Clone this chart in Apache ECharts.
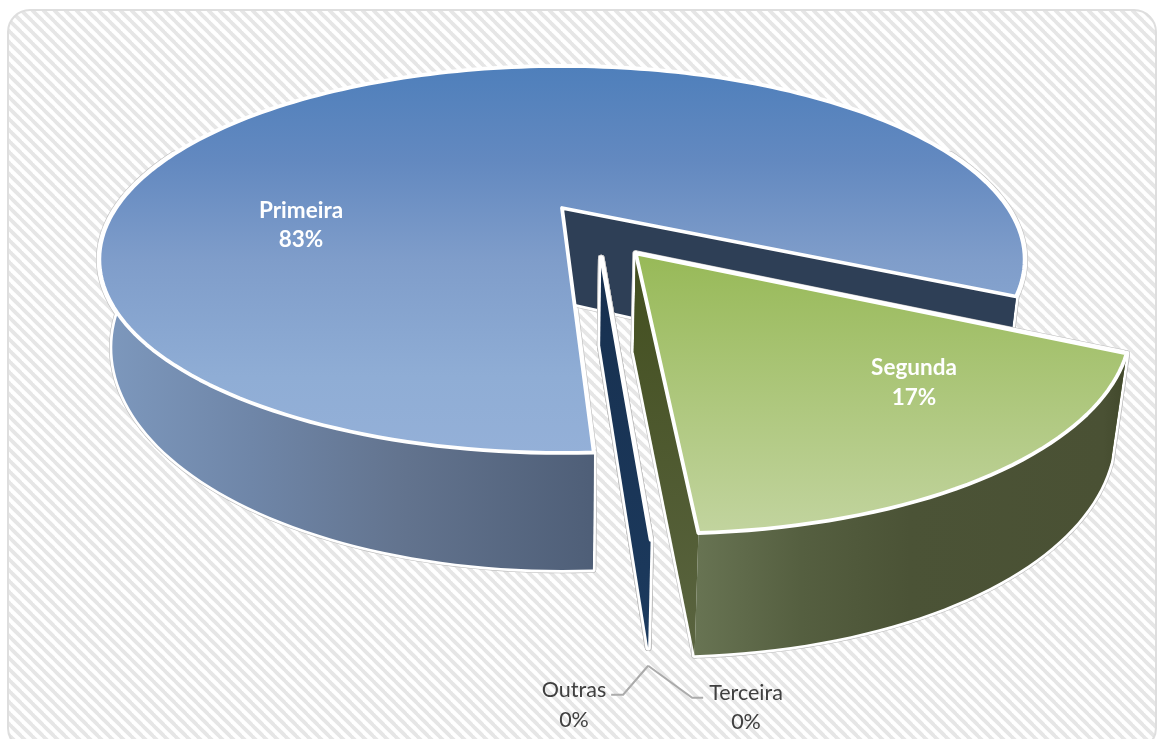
<!DOCTYPE html>
<html>
<head>
<meta charset="utf-8">
<style>html,body{margin:0;padding:0;background:#fff}#c{width:1157px;height:739px}</style>
<script src="https://cdn.jsdelivr.net/npm/echarts@6/dist/echarts.min.js"></script>
</head>
<body>
<div id="c"></div>
<script>
// ---- data ----
const categories = ['Primeira', 'Segunda', 'Terceira', 'Outras'];
const shares = [83, 17, 0, 0];

// ---- scene & style (not data) ----
const firstSliceAngle = 87;          // degrees, clockwise from +x on the disc
const view = { cx: 562, cy: 208, bx: 446, by: 179.8, k: 0.266, wallX: 0.972, depth0: 93, depth1: 24, depthSide: 12 };
const explode = [
  { a: 0, b: 0, r: 1, d: 1 },
  { a: 0.155, b: 0.237, r: 0.985, d: 1 },
  { a: 0.082, b: 0.259, r: 0.98, d: 0.88 },
  { a: 0.082, b: 0.259, r: 0.98, d: 0.88 }
];
const paint = [
  {
    top: [[0, '#4e7fbb'], [0.25, '#6389c0'], [0.5, '#7f9dca'], [0.8, '#8fadd5'], [1, '#94b0d8']],
    wall: { x: 105, x2: 1020, stops: [[0, '#7d98bd'], [0.16, '#6f86a8'], [0.32, '#63748f'], [0.53, '#4f5f78'], [0.6, '#2e3f56'], [1, '#2e3f56']] },
    faceS: ['#2e3f56', '#2e3f56'], faceE: ['#2e3f56', '#2e3f56']
  },
  {
    top: [[0, '#97b957'], [1, '#c2d49f']],
    wall: { x: 694, x2: 1125, stops: [[0, '#687453'], [0.25, '#555f40'], [0.5, '#4b5336'], [0.95, '#4a5134'], [1, '#42492c']] },
    faceS: ['#434f1f', '#434f1f'], faceE: ['#434f1f', '#5a6440']
  },
  {
    top: [[0, '#ffffff'], [1, '#ffffff']],
    wall: { x: 0, x2: 1, stops: [[0, '#17304f'], [1, '#17304f']] },
    faceS: ['#17304f', '#1c3a5e'], faceE: ['#17304f', '#1c3a5e']
  },
  {
    top: [[0, '#ffffff'], [1, '#ffffff']],
    wall: { x: 0, x2: 1, stops: [[0, '#17304f'], [1, '#17304f']] },
    faceS: ['#17304f', '#1c3a5e'], faceE: ['#17304f', '#1c3a5e']
  }
];
const labelAnchor = [
  { x: 301, y: 225, color: '#ffffff', weight: 'bold', size: 22.5, lh: 29 },
  { x: 914, y: 383, color: '#ffffff', weight: 'bold', size: 22.5, lh: 30 },
  { x: 746, y: 708, color: '#404040', weight: 'normal', size: 21.5, lh: 29 },
  { x: 574, y: 705, color: '#404040', weight: 'normal', size: 21.5, lh: 30 }
];
const leaderGap = 18;
const leaderBend = { 2: [[44, 32], [55, 32]], 3: [[-25, 29], [-37, 29]] };
const rad = d => d * Math.PI / 180;

// slice angles from the values
const total = shares.reduce((s, v) => s + v, 0);
let run = firstSliceAngle;
const spans = shares.map(v => { const s = run; run += v / total * 360; return [s, run]; });

function projectTop(a, b) {
  const d = 1 - view.k * b;
  return [view.cx + view.bx * a / d, view.cy + view.by * b / d];
}
function projectLow(a, b, scale) {
  const p = projectTop(a, b);
  const side = a < 0 ? view.depthSide * a * a : 0;
  return [view.cx + (p[0] - view.cx) * view.wallX, p[1] + (view.depth0 + view.depth1 * b - side) * (scale || 1)];
}
function rimAB(i, t) {
  const e = explode[i];
  return [e.a + e.r * Math.cos(rad(t)), e.b + e.r * Math.sin(rad(t))];
}
function arc(i, t0, t1, proj) {
  const n = Math.max(1, Math.ceil(Math.abs(t1 - t0) / 1.5)), out = [];
  for (let j = 0; j <= n; j++) {
    const ab = rimAB(i, t0 + (t1 - t0) * j / n);
    out.push(proj(ab[0], ab[1], explode[i].d));
  }
  return out;
}
const toStops = s => s.map(c => ({ offset: c[0], color: c[1] }));
const vgrad = s => ({ type: 'linear', x: 0, y: 0, x2: 0, y2: 1, colorStops: toStops(s) });
const faceGrad = c => vgrad([[0, c[0]], [1, c[1]]]);
const wallGrad = w => ({ type: 'linear', global: true, x: w.x, y: 0, x2: w.x2, y2: 0, colorStops: toStops(w.stops) });

function poly(points, fill, lw) {
  return { type: 'polygon', shape: { points }, style: { fill: fill, stroke: '#fff', lineWidth: lw, lineJoin: 'round' } };
}
function halo(points) {
  return [
    { type: 'polygon', shape: { points }, style: { fill: 'none', stroke: '#bdbdbd', lineWidth: 6.6, lineJoin: 'round' } },
    { type: 'polygon', shape: { points }, style: { fill: 'none', stroke: '#fff', lineWidth: 5.4, lineJoin: 'round' } }
  ];
}

function renderItem(params, api) {
  const i = api.value(0);
  const [t0, t1] = spans[i];
  const p = paint[i];
  const e = explode[i];
  const ap = projectTop(e.a, e.b);
  const apL = projectLow(e.a, e.b, e.d);
  const children = [];

  // cut faces
  const sT = arc(i, t0, t0, projectTop)[0], sL = arc(i, t0, t0, projectLow)[0];
  const eT = arc(i, t1, t1, projectTop)[0], eL = arc(i, t1, t1, projectLow)[0];
  const faceS = [ap, sT, sL, apL], faceE = [ap, eT, eL, apL];

  // outer wall: only the part turned towards the viewer
  const walls = [];
  const norm = t => ((t % 360) + 360) % 360;
  const visible = t => { const n = norm(t); return n <= 200 || n >= 340; };
  let seg = null;
  const steps = Math.ceil((t1 - t0) / 1.5);
  for (let j = 0; j <= steps && t1 > t0; j++) {
    const t = t0 + (t1 - t0) * j / steps;
    if (visible(t)) { if (!seg) seg = [t, t]; seg[1] = t; }
    else if (seg) { walls.push(seg); seg = null; }
  }
  if (seg) walls.push(seg);
  const wallPts = walls.map(w => arc(i, w[0], w[1], projectTop).concat(arc(i, w[0], w[1], projectLow).reverse()));

  [faceS, faceE].concat(wallPts).forEach(pts => children.push(...halo(pts)));
  children.push(poly(faceS, faceGrad(p.faceS), 0.01));
  if (t1 > t0) children.push(poly(faceE, faceGrad(p.faceE), 0.01));
  wallPts.forEach(pts => children.push(poly(pts, wallGrad(p.wall), 0.01)));

  // top surface
  const top = [ap].concat(arc(i, t0, t1, projectTop));
  children.push(poly(top, vgrad(p.top), 3.8));

  // leader lines for the labels outside the disc
  if (leaderBend[i]) {
    const tip = [eL[0], eL[1] + leaderGap];
    const pts = [tip].concat(leaderBend[i].map(o => [tip[0] + o[0], tip[1] + o[1]]));
    children.push({ type: 'polyline', shape: { points: pts }, style: { fill: 'none', stroke: '#ababab', lineWidth: 2 } });
  }

  // label
  const l = labelAnchor[i];
  children.push({
    type: 'text',
    style: {
      x: l.x, y: l.y,
      text: categories[i] + '\n' + shares[i] + '%',
      fill: l.color, align: 'center', verticalAlign: 'middle',
      font: l.weight + ' ' + l.size + 'px Lato, Carlito, sans-serif', lineHeight: l.lh
    }
  });
  return { type: 'group', children };
}

// hatch used as the plot background
function hatchTile() {
  const P = 11, c = document.createElement('canvas');
  c.width = P; c.height = P;
  const g = c.getContext('2d');
  g.fillStyle = '#ffffff'; g.fillRect(0, 0, P, P);
  g.strokeStyle = '#e6e6e6'; g.lineWidth = 3.8;
  for (let o = -P; o <= P; o += P) {
    g.beginPath(); g.moveTo(o - 1, -1); g.lineTo(o + P + 1, P + 1); g.stroke();
  }
  return c;
}

const chart = echarts.init(document.getElementById('c'), null, { renderer: 'canvas' });
chart.setOption({
  animation: false,
  backgroundColor: '#ffffff',
  graphic: [{
    type: 'rect', z: -1, silent: true,
    shape: { x: 8, y: 10, width: 1148, height: 740, r: 22 },
    style: { fill: { image: hatchTile(), repeat: 'repeat' }, stroke: '#dedede', lineWidth: 2 }
  }],
  series: [{
    type: 'custom',
    coordinateSystem: 'none',
    silent: true,
    renderItem,
    data: categories.map((n, i) => ({ name: n, value: [i, shares[i]] }))
  }]
});
</script>
</body>
</html>
